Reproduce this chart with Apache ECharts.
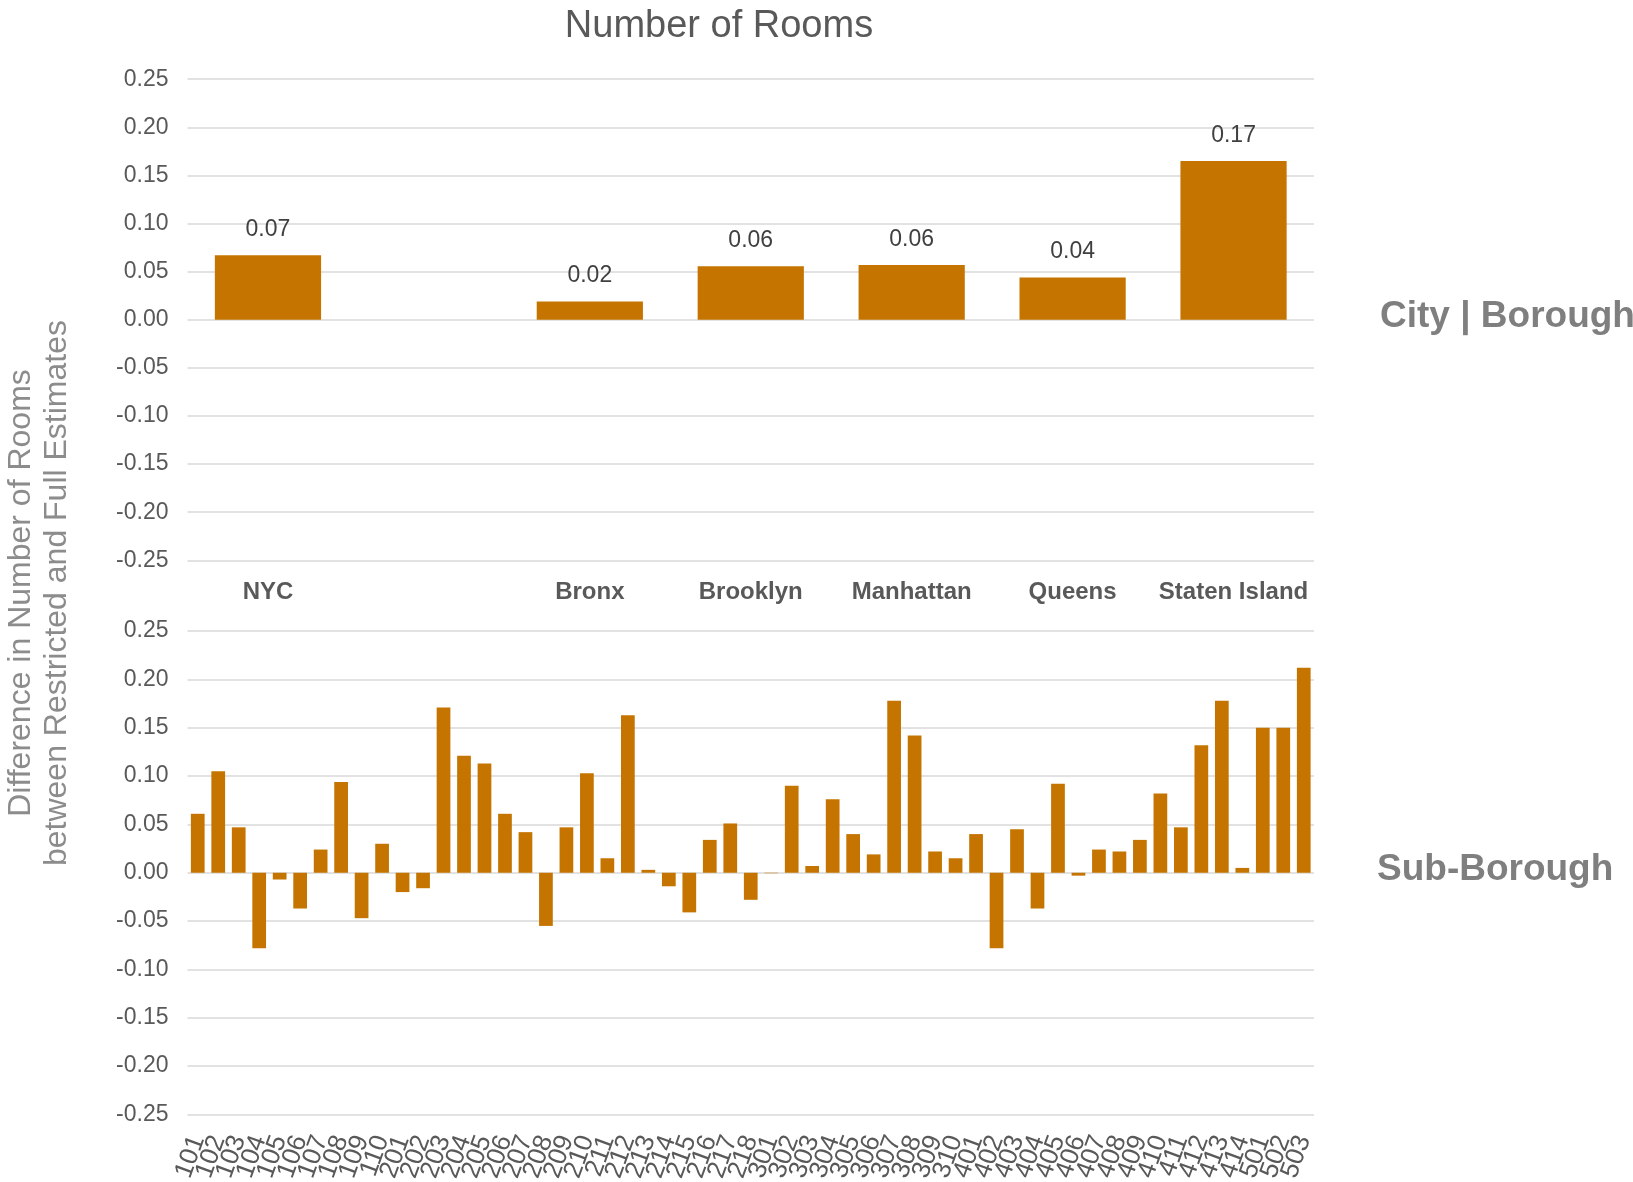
<!DOCTYPE html>
<html>
<head>
<meta charset="utf-8">
<script src="https://cdn.jsdelivr.net/npm/echarts@6/dist/echarts.min.js"></script>
<style>
html, body { margin: 0; padding: 0; background: #ffffff; }
#chart { width: 1633px; height: 1182px; }
</style>
</head>
<body>
<div id="chart"></div>
<script>
const chartTitle = 'Number of Rooms';
const yAxisTitle = 'Difference in Number of Rooms\nbetween Restricted and Full Estimates';
const topPanelLabel = 'City | Borough';
const bottomPanelLabel = 'Sub-Borough';

const boroughCategories = ['NYC', '', 'Bronx', 'Brooklyn', 'Manhattan', 'Queens', 'Staten Island'];
const boroughValues = [0.067, '-', 0.019, 0.0556, 0.057, 0.044, 0.165];

const subBoroughCategories = [
  '101','102','103','104','105','106','107','108','109','110',
  '201','202','203','204','205','206','207','208','209','210','211','212','213','214','215','216','217','218',
  '301','302','303','304','305','306','307','308','309','310',
  '401','402','403','404','405','406','407','408','409','410','411','412','413','414',
  '501','502','503'
];
const subBoroughValues = [
  0.061, 0.105, 0.047, -0.078, -0.007, -0.037, 0.024, 0.094, -0.047, 0.030,
  -0.020, -0.016, 0.171, 0.121, 0.113, 0.061, 0.042, -0.055, 0.047, 0.103, 0.015, 0.163, 0.003, -0.014, -0.041, 0.034, 0.051, -0.028,
  -0.0005, 0.090, 0.007, 0.076, 0.040, 0.019, 0.178, 0.142, 0.022, 0.015,
  0.040, -0.078, 0.045, -0.037, 0.092, -0.003, 0.024, 0.022, 0.034, 0.082, 0.047, 0.132, 0.178, 0.005,
  0.150, 0.150, 0.212
];

const yTickMin = -0.25, yTickMax = 0.25, yTickStep = 0.05;

const FONT = '"Liberation Sans", Arial, sans-serif';
const BAR = '#C57400';
const GRID = '#D9D9D9';
const TXT = '#595959';

const chart = echarts.init(document.getElementById('chart'), null, { renderer: 'canvas' });

function valueAxis(gridIndex) {
  return {
    type: 'value', gridIndex: gridIndex,
    min: yTickMin, max: yTickMax, interval: yTickStep,
    axisLine: { show: false }, axisTick: { show: false },
    splitLine: { lineStyle: { color: GRID, width: 1.5 } },
    axisLabel: {
      color: TXT, fontFamily: FONT, fontSize: 23, margin: 19,
      formatter: v => v.toFixed(2)
    }
  };
}

const option = {
  backgroundColor: '#ffffff',
  animation: false,
  grid: [
    { left: 187.5, right: 319, top: 79.2, height: 481.1, containLabel: false, outerBoundsMode: 'none' },
    { left: 187.5, right: 319, top: 631.1, height: 483.3, containLabel: false, outerBoundsMode: 'none' }
  ],
  xAxis: [
    {
      type: 'category', gridIndex: 0, data: boroughCategories,
      axisLine: { show: false, onZero: false }, axisTick: { show: false },
      axisLabel: { color: TXT, fontFamily: FONT, fontSize: 24, fontWeight: 'bold', margin: 20, interval: 0 }
    },
    {
      type: 'category', gridIndex: 1, data: subBoroughCategories,
      axisLine: { show: false, onZero: false }, axisTick: { show: false },
      axisLabel: { color: TXT, fontFamily: FONT, fontSize: 26, margin: 22, interval: 0, rotate: 70 }
    }
  ],
  yAxis: [valueAxis(0), valueAxis(1)],
  series: [
    {
      type: 'bar', xAxisIndex: 0, yAxisIndex: 0, data: boroughValues,
      barCategoryGap: '34%',
      itemStyle: { color: BAR },
      label: {
        show: true, position: 'top', distance: 14,
        color: '#404040', fontFamily: FONT, fontSize: 23,
        formatter: p => (typeof p.value === 'number' ? p.value.toFixed(2) : '')
      }
    },
    {
      type: 'bar', xAxisIndex: 1, yAxisIndex: 1, data: subBoroughValues,
      barCategoryGap: '33%',
      itemStyle: { color: BAR }
    }
  ],
  graphic: [
    {
      type: 'text', x: 719, y: 27,
      style: { text: chartTitle, fill: TXT, font: '38px ' + FONT, textAlign: 'center', textVerticalAlign: 'middle' }
    },
    {
      type: 'text', x: 39, y: 593, rotation: Math.PI / 2,
      style: { text: yAxisTitle, fill: '#8C8C8C', font: '32px ' + FONT, lineHeight: 36, textAlign: 'center', textVerticalAlign: 'middle' }
    },
    {
      type: 'text', x: 1380, y: 317,
      style: { text: topPanelLabel, fill: '#7F7F7F', font: 'bold 37px ' + FONT, textAlign: 'left', textVerticalAlign: 'middle' }
    },
    {
      type: 'text', x: 1377, y: 870,
      style: { text: bottomPanelLabel, fill: '#7F7F7F', font: 'bold 37px ' + FONT, textAlign: 'left', textVerticalAlign: 'middle' }
    }
  ]
};

chart.setOption(option);
</script>
</body>
</html>
